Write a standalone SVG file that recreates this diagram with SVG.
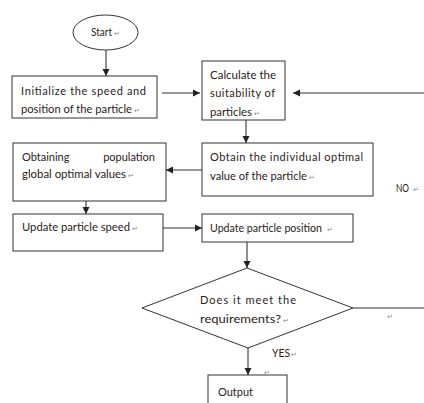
<svg xmlns="http://www.w3.org/2000/svg" width="424" height="403" viewBox="0 0 424 403">
<defs>
<style>
.box{fill:#fff;stroke:#333;stroke-width:1}
.ln{fill:none;stroke:#333;stroke-width:1.1}
.t{font-family:"Lato","Open Sans","Liberation Sans",sans-serif;font-size:11px;fill:#2a2218}
.pm{font-family:"DejaVu Sans",sans-serif;font-size:7px;fill:#888}
</style>
<marker id="ah" markerWidth="8" markerHeight="8" refX="7" refY="4" orient="auto" markerUnits="userSpaceOnUse">
<path d="M0,0.5 L7,4 L0,7.5 Z" fill="#222"/>
</marker>
</defs>
<rect width="424" height="403" fill="#fff"/>
<g id="connectors">
<line class="ln" x1="106" y1="50" x2="106" y2="76" marker-end="url(#ah)"/>
<line class="ln" x1="162" y1="93" x2="200" y2="93" marker-end="url(#ah)"/>
<line class="ln" x1="424" y1="93" x2="293" y2="93" marker-end="url(#ah)"/>
<line class="ln" x1="246" y1="120" x2="246" y2="143" marker-end="url(#ah)"/>
<line class="ln" x1="202" y1="170" x2="166" y2="170" marker-end="url(#ah)"/>
<line class="ln" x1="86" y1="201" x2="86" y2="214" marker-end="url(#ah)"/>
<line class="ln" x1="163" y1="228" x2="202" y2="228" marker-end="url(#ah)"/>
<line class="ln" x1="247" y1="242" x2="247" y2="268" marker-end="url(#ah)"/>
<line class="ln" x1="353" y1="308" x2="424" y2="308"/>
<line class="ln" x1="248" y1="348" x2="248" y2="375" marker-end="url(#ah)"/>
</g>
<g id="start">
<ellipse class="box" cx="105.5" cy="32.5" rx="32.5" ry="17.5"/>
<text class="t" x="91" y="36" textLength="21" lengthAdjust="spacingAndGlyphs">Start</text><text class="pm" x="114" y="36">↵</text>
</g>
<g id="init">
<rect class="box" x="12" y="76" width="145" height="42"/>
<text class="t" x="21" y="95" textLength="125" lengthAdjust="spacing">Initialize the speed and</text>
<text class="t" x="21" y="113" textLength="111" lengthAdjust="spacingAndGlyphs">position of the particle</text><text class="pm" x="134" y="113">↵</text>
</g>
<g id="calc">
<rect class="box" x="202" y="61" width="83" height="59"/>
<text class="t" x="210" y="79" textLength="66" lengthAdjust="spacingAndGlyphs">Calculate the</text>
<text class="t" x="210" y="97" textLength="65" lengthAdjust="spacing">suitability  of</text>
<text class="t" x="210" y="116" textLength="42" lengthAdjust="spacingAndGlyphs">particles</text><text class="pm" x="254" y="116">↵</text>
</g>
<g id="indiv">
<rect class="box" x="202" y="143" width="171" height="53"/>
<text class="t" x="210" y="161" textLength="153" lengthAdjust="spacing">Obtain the individual optimal</text>
<text class="t" x="210" y="180" textLength="97" lengthAdjust="spacingAndGlyphs">value of the particle</text><text class="pm" x="309" y="180">↵</text>
</g>
<g id="global">
<rect class="box" x="13" y="143" width="153" height="58"/>
<text class="t" x="22" y="161">Obtaining</text>
<text class="t" x="155" y="161" text-anchor="end">population</text>
<text class="t" x="22" y="178" textLength="104" lengthAdjust="spacingAndGlyphs">global optimal values</text><text class="pm" x="128" y="178">↵</text>
</g>
<g id="speed">
<rect class="box" x="13" y="214" width="150" height="37"/>
<text class="t" x="22" y="231" textLength="108" lengthAdjust="spacingAndGlyphs">Update particle speed</text><text class="pm" x="132" y="231">↵</text>
</g>
<g id="position">
<rect class="box" x="202" y="214" width="151" height="28"/>
<text class="t" x="210" y="232" textLength="112" lengthAdjust="spacingAndGlyphs">Update particle position</text><text class="pm" x="327" y="232">↵</text>
</g>
<g id="decision">
<polygon class="box" points="247,268 353,308 248,348 142,308"/>
<text class="t" x="200" y="304" textLength="96" lengthAdjust="spacing">Does it meet the</text>
<text class="t" x="200" y="323" textLength="81" lengthAdjust="spacingAndGlyphs">requirements?</text><text class="pm" x="283" y="323">↵</text>
</g>
<g id="output">
<rect class="box" x="208" y="375" width="79" height="30"/>
<text class="t" x="218" y="396" textLength="35" lengthAdjust="spacingAndGlyphs">Output</text>
</g>
<g id="labels">
<text class="t" x="396" y="192" textLength="13" lengthAdjust="spacingAndGlyphs">NO</text><text class="pm" x="413" y="192">↵</text>
<text class="t" x="272" y="357" textLength="18" lengthAdjust="spacingAndGlyphs">YES</text><text class="pm" x="291" y="357">↵</text>
<text class="pm" x="264" y="375">↵</text>
<text class="pm" x="387" y="319">↵</text>
</g>
</svg>
